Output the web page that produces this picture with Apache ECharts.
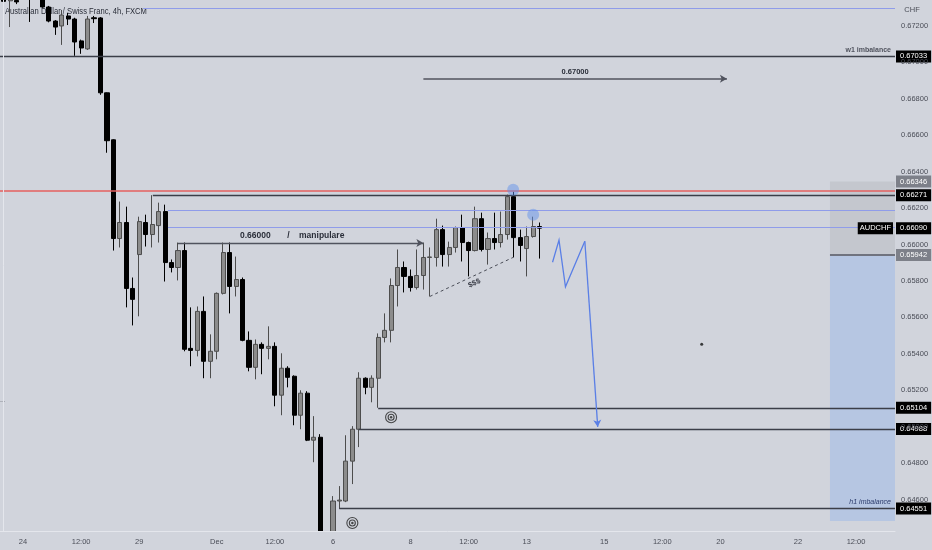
<!DOCTYPE html>
<html><head><meta charset="utf-8">
<script src="https://cdn.jsdelivr.net/npm/echarts@6/dist/echarts.min.js"></script>
<style>html,body{margin:0;padding:0;background:#d1d4dc}#c{width:932px;height:550px}</style>
</head><body><div id="c"></div><script>
// ---------- DATA ----------
const opens  = [0.67345,0.67338,0.67340,0.67370,0.67400,0.67360,0.67380,0.67304,0.67227,0.67200,0.67255,0.67238,0.67118,0.67074,0.67245,0.67244,0.66833,0.66575,0.66033,0.66121,0.65759,0.65945,0.66121,0.66055,0.66104,0.66181,0.65901,0.65874,0.65967,0.65430,0.65419,0.65633,0.65359,0.65414,0.65732,0.65956,0.65770,0.65808,0.65474,0.65326,0.65452,0.65430,0.65441,0.65173,0.65321,0.65277,0.65063,0.65184,0.64926,0.64942,0.64380,0.64370,0.64592,0.64592,0.64811,0.64986,0.65266,0.65216,0.65266,0.65490,0.65529,0.65775,0.65874,0.65825,0.65764,0.65830,0.65929,0.65929,0.66082,0.65945,0.65984,0.66093,0.66011,0.65967,0.66142,0.65973,0.66033,0.66011,0.66055,0.66263,0.66038,0.65978,0.66044,0.66099];
const closes = [0.67335,0.67345,0.67332,0.67400,0.67360,0.67390,0.67304,0.67227,0.67194,0.67260,0.67238,0.67112,0.67079,0.67238,0.67240,0.66833,0.66570,0.66033,0.66121,0.65759,0.65699,0.66126,0.66055,0.66110,0.66181,0.65901,0.65874,0.65967,0.65425,0.65419,0.65633,0.65359,0.65414,0.65732,0.65956,0.65770,0.65808,0.65474,0.65326,0.65452,0.65430,0.65441,0.65173,0.65321,0.65271,0.65063,0.65184,0.64926,0.64942,0.64380,0.64360,0.64592,0.64597,0.64811,0.64986,0.65266,0.65216,0.65266,0.65490,0.65529,0.65775,0.65874,0.65825,0.65764,0.65830,0.65929,0.65932,0.66082,0.65945,0.65984,0.66093,0.66011,0.65967,0.66142,0.65973,0.66033,0.66011,0.66055,0.66263,0.66038,0.65995,0.66044,0.66099,0.66090];
const lows   = [0.67232,0.67194,0.67320,0.67350,0.67222,0.67350,0.67300,0.67220,0.67151,0.67096,0.67205,0.67036,0.67047,0.67068,0.67216,0.66822,0.66504,0.65967,0.65984,0.65655,0.65556,0.65606,0.65989,0.65984,0.66011,0.65797,0.65847,0.65803,0.65414,0.65332,0.65386,0.65266,0.65266,0.65370,0.65726,0.65622,0.65715,0.65469,0.65304,0.65260,0.65288,0.65370,0.65112,0.65063,0.65216,0.65008,0.64986,0.64921,0.64805,0.64340,0.64320,0.64330,0.64548,0.64586,0.64685,0.64888,0.65178,0.65134,0.65104,0.65463,0.65463,0.65660,0.65737,0.65742,0.65753,0.65753,0.65715,0.65879,0.65879,0.65879,0.65956,0.65907,0.65825,0.65962,0.65962,0.65890,0.65973,0.65984,0.66027,0.65929,0.65907,0.65825,0.66038,0.65923];
const highs  = [0.67370,0.67380,0.67370,0.67450,0.67440,0.67420,0.67410,0.67310,0.67232,0.67288,0.67271,0.67245,0.67125,0.67255,0.67255,0.67249,0.66835,0.66578,0.66236,0.66208,0.65819,0.66153,0.66164,0.66271,0.66230,0.66219,0.65918,0.66011,0.66011,0.65655,0.65660,0.65715,0.65507,0.65737,0.66011,0.66011,0.65934,0.65819,0.65523,0.65479,0.65463,0.65551,0.65463,0.65403,0.65332,0.65282,0.65200,0.65195,0.65058,0.64959,0.64410,0.64619,0.64674,0.64953,0.65003,0.65299,0.65271,0.65282,0.65512,0.65622,0.65814,0.65973,0.65907,0.65863,0.65973,0.66011,0.65984,0.66142,0.66104,0.66016,0.66099,0.66164,0.66016,0.66208,0.66175,0.66066,0.66175,0.66181,0.66274,0.66290,0.66082,0.66099,0.66153,0.66121];
// bar index 0 = 2021-11-23 12:00 (4h bars, trading days only)

const yTicks = [0.646,0.648,0.650,0.652,0.654,0.656,0.658,0.660,0.662,0.664,0.666,0.668,0.670,0.672];
const xTickIdx  = [3,12,21,33,42,51,63,72,81,93,102,111,123,132];
const xTickText = ['24','12:00','29','Dec','12:00','6','8','12:00','13','15','12:00','20','22','12:00'];
const xRange = [-0.5615, 138.03];
const yRange = [0.644274, 0.673425];

// horizontal levels: price and start (bar index)
const levelPrice = [0.67297,0.67033,0.66296,0.66271,0.66186,0.66095,0.65104,0.64988,0.64551,0.65942];
const levelFrom  = [21.6,-0.5615,-0.5615,23.1,25.45,25.45,58,55,52,127.96];
// price boxes on axis
const axisBoxPrice = [0.67033,0.66346,0.66271,0.66090,0.65942,0.65104,0.64988,0.64551];
// arrows / notes
const arrowHiPrice = 0.66910, arrowHiFrom = 65, arrowHiTo = 112, arrowHiText = '0.67000';
const arrowLoPrice = 0.66009, arrowLoFrom = 27, arrowLoTo = 65, arrowLoText = '0.66000       /    manipulare';
const liqFrom = [66, 0.65715], liqTo = [78.87, 0.65929], liqText = '$$$';
// position box
const boxFrom = 127.96, boxTop = 0.66346, boxEntry = 0.65942, boxBottom = 0.64482;
// projection path
const pathX = [85,86,87,90,92];
const pathY = [0.65903,0.66024,0.65768,0.66018,0.64999];
// highlight circles
const circX = [78.9,82], circY = [0.66301,0.66164];
// target icons
const targetX = [60,54], targetY = [0.65052,0.64471];
const dotX = [108.1], dotY = [0.65452];

// ---------- BUILD ----------
const candles = opens.map((o,i)=>[i, o, closes[i], lows[i], highs[i]]);
const FONT = "'Liberation Sans','Roboto',sans-serif";
const BG = '#d1d4dc';
const kindOf = ['blue','dark','red','dark','blue','blue','dark','dark','dark','entry'];
const kindStyle = {
  blue:{color:'#8f9cea',width:1},
  dark:{color:'#3b3e48',width:1.3},
  red:{color:'#e5605f',width:1.5},
  entry:{color:'#70737e',width:2}
};
const xMax = xRange[1];

const lineItems = levelPrice.map((p,i)=>[
  {coord:[levelFrom[i],p], symbol:'none', lineStyle:Object.assign({type:'solid'},kindStyle[kindOf[i]]), label:{show:false}},
  {coord:[xMax,p], symbol:'none'}
]);
lineItems.push([
  {coord:[arrowHiFrom,arrowHiPrice], symbol:'none', lineStyle:{color:'#50535e',width:1.5,type:'solid'},
   label:{show:true,position:'insideMiddleTop',formatter:arrowHiText,fontSize:7.5,fontWeight:'bold',color:'#2a2e39',fontFamily:FONT,distance:3}},
  {coord:[arrowHiTo,arrowHiPrice], symbol:'arrow', symbolSize:[6,7]}
]);
lineItems.push([
  {coord:[arrowLoFrom,arrowLoPrice], symbol:'none', lineStyle:{color:'#50535e',width:1.3,type:'solid'},
   label:{show:true,position:'insideEndTop',formatter:arrowLoText,fontSize:8.5,fontWeight:'bold',color:'#2a2e39',fontFamily:FONT,distance:[79,3]}},
  {coord:[arrowLoTo,arrowLoPrice], symbol:'arrow', symbolSize:[6,7]}
]);
lineItems.push([
  {coord:liqFrom, symbol:'none', lineStyle:{color:'#4a4d57',width:1,type:[3,3]},
   label:{show:true,position:'insideMiddleBottom',formatter:liqText,fontSize:7.5,fontWeight:'bold',color:'#3b3e48',fontFamily:FONT,distance:3}},
  {coord:liqTo, symbol:'none'}
]);
// last leg of projection with arrow head
const nP = pathX.length;
lineItems.push([
  {coord:[pathX[nP-2],pathY[nP-2]], symbol:'none', lineStyle:{color:'#5a7fe6',width:1.3,type:'solid'}, label:{show:false}},
  {coord:[pathX[nP-1],pathY[nP-1]], symbol:'arrow', symbolSize:[6,7]}
]);

const pointItems = axisBoxPrice.map((p,i)=>({
  coord:[xMax,p],
  label:{show:true,position:'right',distance:1,formatter:p.toFixed(5),color:'#fff',
    backgroundColor:(i===1||i===4)?'#7d8089':'#000',padding:[2,4,2,4],fontSize:7.5,fontFamily:FONT}
}));
pointItems.push(
  {coord:[xMax,0.66090],label:{show:true,position:'left',distance:2,formatter:'AUDCHF',color:'#fff',backgroundColor:'#000',padding:[2,2,2,2],fontSize:7.5,fontFamily:FONT}},
  {coord:[xMax,0.67033],label:{show:true,position:'left',distance:4,offset:[0,-6],formatter:'w1 imbalance',color:'#50535e',fontSize:7,fontWeight:'bold',fontFamily:FONT}},
  {coord:[xMax,0.64551],label:{show:true,position:'left',distance:4,offset:[0,-6],formatter:'h1 imbalance',color:'#2a3a6a',fontSize:7,fontStyle:'italic',fontFamily:FONT}}
);

const chart = echarts.init(document.getElementById('c'));
chart.setOption({
  animation:false,
  backgroundColor:BG,
  graphic:[
    {type:'text',z:1,x:5,y:11,scaleX:0.8,style:{text:'Australian Dollar / Swiss Franc, 4h, FXCM',x:0,y:0,align:'left',verticalAlign:'middle',fontSize:9.5,fill:'#2a2e39',fontFamily:FONT}},
    {type:'rect',z:50,shape:{x:0,y:531.5,width:932,height:19},style:{fill:BG}},
    {type:'text',z:60,style:{text:'CHF',x:912,y:10,align:'center',verticalAlign:'middle',fontSize:7.5,fill:'#4a4d57',fontFamily:FONT}},
    {type:'text',z:60,style:{text:'→',x:-2,y:401,align:'left',verticalAlign:'middle',fontSize:8,fill:'#50535e',fontFamily:FONT}}
  ],
  grid:{left:0,right:37,top:0,bottom:19,containLabel:false},
  xAxis:{type:'value',min:xRange[0],max:xRange[1],z:60,
    axisLine:{show:true,lineStyle:{color:'#e4e6ec',width:1}},
    axisTick:{show:false},splitLine:{show:false},
    axisLabel:{customValues:xTickIdx,
      formatter:(v)=>{const k=xTickIdx.indexOf(Math.round(v));return k>=0?xTickText[k]:'';},
      color:'#4a4d57',fontSize:7.5,margin:7,fontFamily:FONT}},
  yAxis:{type:'value',position:'right',min:yRange[0],max:yRange[1],scale:true,z:60,
    axisLine:{show:true,lineStyle:{color:'#e4e6ec',width:1}},
    axisTick:{show:false},splitLine:{show:false},
    axisLabel:{customValues:yTicks,formatter:(v)=>v.toFixed(5),color:'#4a4d57',fontSize:7.5,margin:6,fontFamily:FONT}},
  series:[
    {type:'line',data:[],z:1,silent:true,clip:false,
      markArea:{silent:true,data:[
        [{xAxis:boxFrom,yAxis:boxTop,itemStyle:{color:'#c4c7ce'}},{xAxis:xMax,yAxis:boxEntry}],
        [{xAxis:boxFrom,yAxis:boxEntry,itemStyle:{color:'#b6c6e2'}},{xAxis:xMax,yAxis:boxBottom}]
      ]}},
    {type:'candlestick',data:candles,encode:{x:0,y:[1,2,3,4]},barWidth:4.6,clip:true,z:3,
      itemStyle:{color:'#8c8c8c',color0:'#000000',borderColor:'#4d4d4d',borderColor0:'#000000',borderWidth:1}},
    {type:'line',data:[],z:70,silent:true,clip:false,
      markLine:{silent:true,symbol:'none',animation:false,data:lineItems},
      markPoint:{silent:true,symbol:'rect',symbolSize:0,data:pointItems}},
    {type:'lines',coordinateSystem:'cartesian2d',polyline:true,z:5,silent:true,
      lineStyle:{color:'#5a7fe6',width:1.3,opacity:1},
      data:[{coords:pathX.slice(0,nP-1).map((x,i)=>[x,pathY[i]])}]},
    {type:'scatter',z:6,silent:true,symbolSize:12,
      itemStyle:{color:'rgba(95,145,235,0.6)'},data:circX.map((x,i)=>[x,circY[i]])},
    {type:'scatter',z:6,silent:true,symbolSize:11,
      itemStyle:{color:'rgba(0,0,0,0)',borderColor:'#222',borderWidth:1.1},data:targetX.map((x,i)=>[x,targetY[i]])},
    {type:'scatter',z:6,silent:true,symbolSize:6,
      itemStyle:{color:'rgba(0,0,0,0)',borderColor:'#222',borderWidth:1.1},data:targetX.map((x,i)=>[x,targetY[i]])},
    {type:'scatter',z:6,silent:true,symbolSize:2.5,
      itemStyle:{color:'#222'},data:targetX.map((x,i)=>[x,targetY[i]])},
    {type:'scatter',z:6,silent:true,symbolSize:3,
      itemStyle:{color:'#111'},data:dotX.map((x,i)=>[x,dotY[i]])}
  ]
});
</script></body></html>
